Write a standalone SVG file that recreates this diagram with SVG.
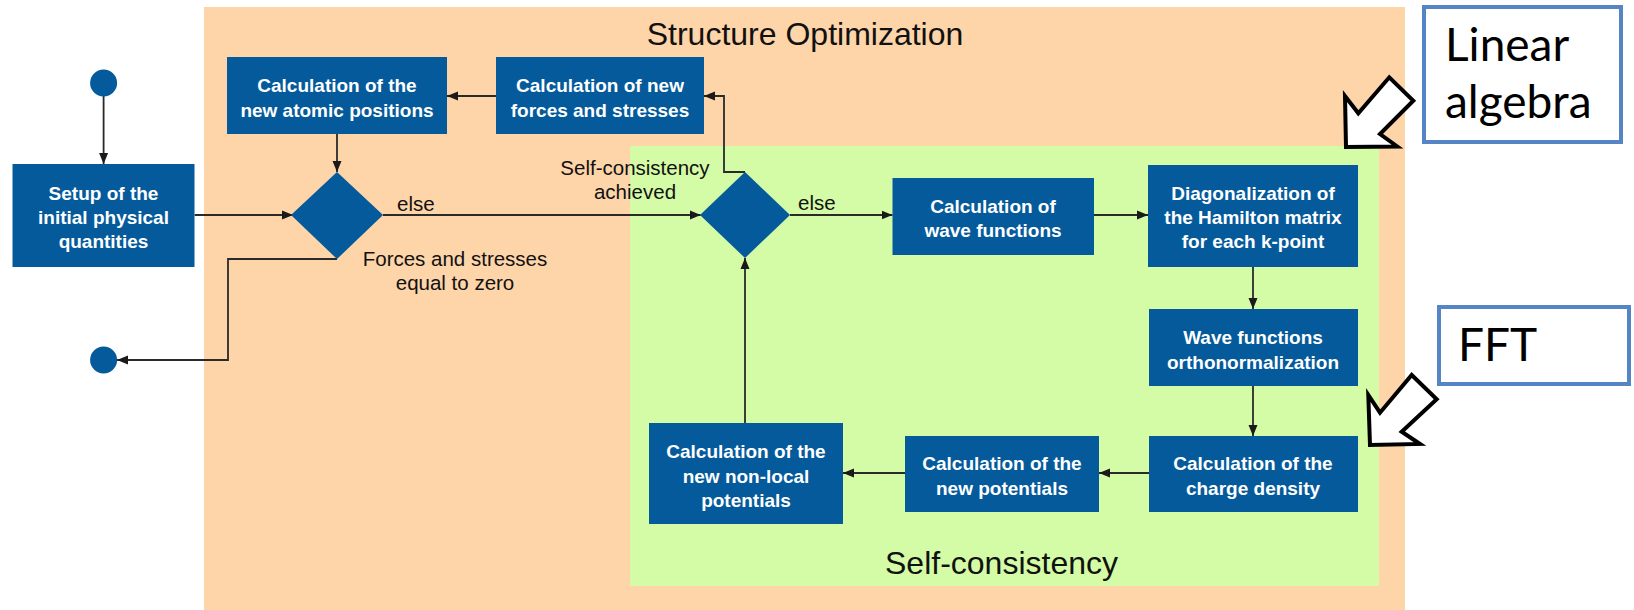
<svg xmlns="http://www.w3.org/2000/svg" width="1634" height="610" viewBox="0 0 1634 610">
<defs>
<marker id="ah" markerUnits="userSpaceOnUse" markerWidth="12" markerHeight="10" refX="11" refY="5" orient="auto">
<path d="M0,0.5 L11,5 L0,9.5 Z" fill="#1a1a1a"/>
</marker>
</defs>
<style>
.box{fill:#045a9b;}
.bt{font-family:"Liberation Sans",Arial,sans-serif;font-weight:bold;font-size:19px;fill:#ffffff;text-anchor:middle;}
.lb{font-family:"Liberation Sans",Arial,sans-serif;font-size:20.5px;fill:#111111;}
.ttl{font-family:"Liberation Sans",Arial,sans-serif;font-size:32px;fill:#111111;}
.cn{fill:none;stroke:#2a2a2a;stroke-width:1.8;marker-end:url(#ah);}
.nb{fill:#ffffff;stroke:#5585c4;stroke-width:4;}
.nt{font-family:Lato,"Open Sans",sans-serif;font-size:46px;fill:#000000;}
.ba{fill:#ffffff;stroke:#000000;stroke-width:4;stroke-linejoin:miter;}
</style>
<rect width="1634" height="610" fill="#ffffff"/>
<g id="structure-optimization">
<rect x="204" y="7" width="1201" height="603" fill="#fed4a9"/>
<text class="ttl" x="805" y="45" text-anchor="middle">Structure Optimization</text>
</g>
<g id="self-consistency">
<rect x="630" y="146" width="749" height="440" fill="#d4fba5"/>
<text class="ttl" x="885" y="574">Self-consistency</text>
</g>
<g id="connectors">
<path class="cn" d="M103.6,96 V164"/>
<path class="cn" d="M194.6,215 H293"/>
<path class="cn" d="M496,96 H447"/>
<path class="cn" d="M337,134 V172"/>
<path class="cn" d="M383,215 H700.7"/>
<path class="cn" d="M745,172 H724 V96 H704"/>
<path class="cn" d="M790,215 H892.5"/>
<path class="cn" d="M1094,215 H1148"/>
<path class="cn" d="M1253,267 V309"/>
<path class="cn" d="M1253,386 V436"/>
<path class="cn" d="M1149,473 H1099"/>
<path class="cn" d="M905,473 H843"/>
<path class="cn" d="M745,423 V258"/>
<path class="cn" d="M337,259 H228 V360 H117"/>
</g>
<g id="start">
<circle cx="103.6" cy="83" r="13.5" fill="#045a9b"/>
</g>
<g id="end">
<circle cx="103.6" cy="360" r="13.5" fill="#045a9b"/>
</g>
<g id="setup">
<rect class="box" x="12.5" y="164" width="182" height="103"/>
<text class="bt" x="103.5" y="200">Setup of the</text>
<text class="bt" x="103.5" y="224">initial physical</text>
<text class="bt" x="103.5" y="248">quantities</text>
</g>
<g id="atomic-positions">
<rect class="box" x="227" y="57" width="220" height="77"/>
<text class="bt" x="337" y="92">Calculation of the</text>
<text class="bt" x="337" y="117">new atomic positions</text>
</g>
<g id="forces-stresses">
<rect class="box" x="496" y="57" width="208" height="77"/>
<text class="bt" x="600" y="92">Calculation of new</text>
<text class="bt" x="600" y="117">forces and stresses</text>
</g>
<g id="decision-forces">
<path class="box" d="M337,172 L383,215 L337,259 L291,215 Z"/>
<text class="lb" x="397" y="211">else</text>
<text class="lb" x="455" y="266" text-anchor="middle">Forces and stresses</text>
<text class="lb" x="455" y="290" text-anchor="middle">equal to zero</text>
</g>
<g id="decision-scf">
<path class="box" d="M745,172 L790,215 L745,258 L700,215 Z"/>
<text class="lb" x="635" y="175" text-anchor="middle">Self-consistency</text>
<text class="lb" x="635" y="199" text-anchor="middle">achieved</text>
<text class="lb" x="798" y="210">else</text>
</g>
<g id="wave-functions">
<rect class="box" x="892.5" y="178" width="201.5" height="77"/>
<text class="bt" x="993" y="213">Calculation of</text>
<text class="bt" x="993" y="237">wave functions</text>
</g>
<g id="diagonalization">
<rect class="box" x="1148" y="165" width="210" height="102"/>
<text class="bt" x="1253" y="200">Diagonalization of</text>
<text class="bt" x="1253" y="224">the Hamilton matrix</text>
<text class="bt" x="1253" y="248">for each k-point</text>
</g>
<g id="orthonormalization">
<rect class="box" x="1149" y="309" width="209" height="77"/>
<text class="bt" x="1253" y="344">Wave functions</text>
<text class="bt" x="1253" y="369">orthonormalization</text>
</g>
<g id="charge-density">
<rect class="box" x="1149" y="436" width="209" height="76"/>
<text class="bt" x="1253" y="470">Calculation of the</text>
<text class="bt" x="1253" y="495">charge density</text>
</g>
<g id="new-potentials">
<rect class="box" x="905" y="436" width="194" height="76"/>
<text class="bt" x="1002" y="470">Calculation of the</text>
<text class="bt" x="1002" y="495">new potentials</text>
</g>
<g id="nonlocal-potentials">
<rect class="box" x="649" y="423" width="194" height="101"/>
<text class="bt" x="746" y="458">Calculation of the</text>
<text class="bt" x="746" y="483">new non-local</text>
<text class="bt" x="746" y="507">potentials</text>
</g>
<g id="linear-algebra">
<rect class="nb" x="1424" y="7" width="197" height="135"/>
<text class="nt" x="1445" y="61">Linear</text>
<text class="nt" x="1445" y="118">algebra</text>
<path class="ba" d="M1346,147 L1345,96 L1358.3,113.3 L1389.3,77.3 L1413.3,100.7 L1380,134 L1397.3,146.5 Z"/>
</g>
<g id="fft">
<rect class="nb" x="1439" y="307" width="190" height="77"/>
<text class="nt" x="1458" y="361">FFT</text>
<path class="ba" d="M1370,445 L1368.3,395 L1380,412.7 L1411.7,375 L1436.7,399.3 L1401.7,431.7 L1420,444 Z"/>
</g>
</svg>
